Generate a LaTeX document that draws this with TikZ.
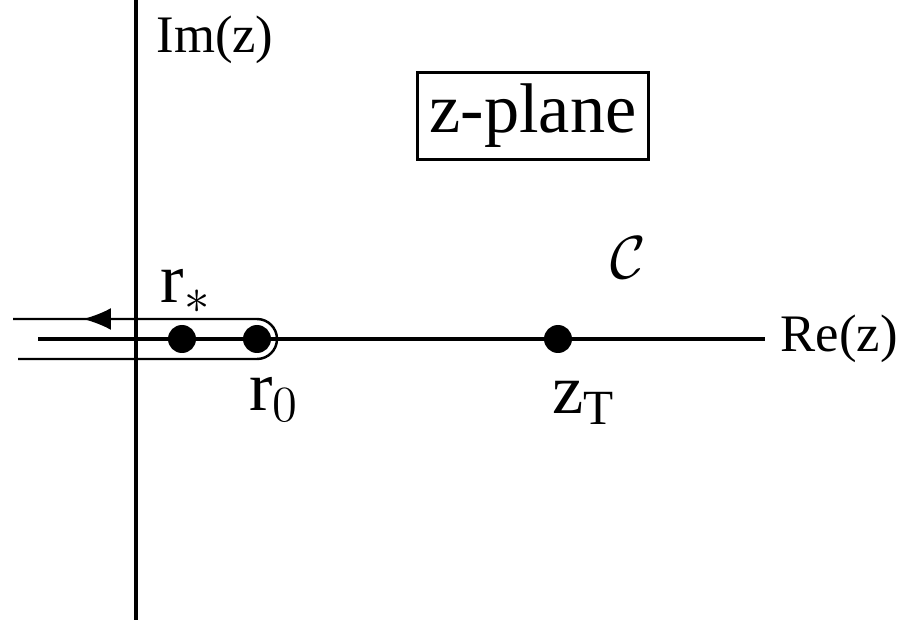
\documentclass[tikz,border=0pt]{standalone}
\usepackage{fontspec}
\setmainfont{Liberation Serif}
\usetikzlibrary{arrows.meta,positioning}
\tikzset{axis/.style={line width=1.3pt},
 contour/.style={line width=0.7pt},
 pole/.style={circle,fill,inner sep=0pt,minimum size=2.8mm},
 big/.style={inner sep=0pt,font=\fontsize{20}{24}\selectfont},
 small/.style={inner sep=0pt,font=\fontsize{15}{18}\selectfont},
 planebox/.style={draw,line width=1pt,inner xsep=1.2mm,minimum height=6.8mm,font=\fontsize{20}{24}\selectfont}}

\begin{document}
\begin{tikzpicture}[x=0.1mm,y=0.1mm]
\useasboundingbox (0,0) rectangle (899,631);
\coordinate (imtop) at (136,631);
\coordinate (imbot) at (136,11);
\coordinate (releft) at (38,292);
\coordinate (reright) at (765,292);
\coordinate (ctop) at (13,312);
\coordinate (cturn) at (257,312);
\coordinate (cbot) at (18,272);
\coordinate (atip) at (83,312);
\coordinate (abase) at (112,312);
\draw[axis] (imtop)--(imbot);
\draw[axis] (releft)--(reright);
\node[pole](rs) at (182,292){};
\node[pole](ro) at (257,292){};
\node[pole](zt) at (558,292){};
\draw[contour] (ctop)--(cturn) arc(90:-90:20)--(cbot);
\draw[contour,-{Latex[length=2.8mm,width=2.2mm]}] (abase)--(atip);
\node[big](rslab) at (186,340){r$_*$};
\node[big](rolab) at (274,232){r$_0$};
\node[big](ztlab) at (584,228){z$_\mathrm{T}$};
\node[small,right](relab) at (780,292){Re(z)};
\node[small](imlab) at (215,591){Im(z)};
\node[planebox](plane) at (533,515){z-plane};
\node[inner sep=0pt,font=\fontsize{17}{20}\selectfont](clab) at (628,373){$\mathcal{C}$};
\end{tikzpicture}
\end{document}
